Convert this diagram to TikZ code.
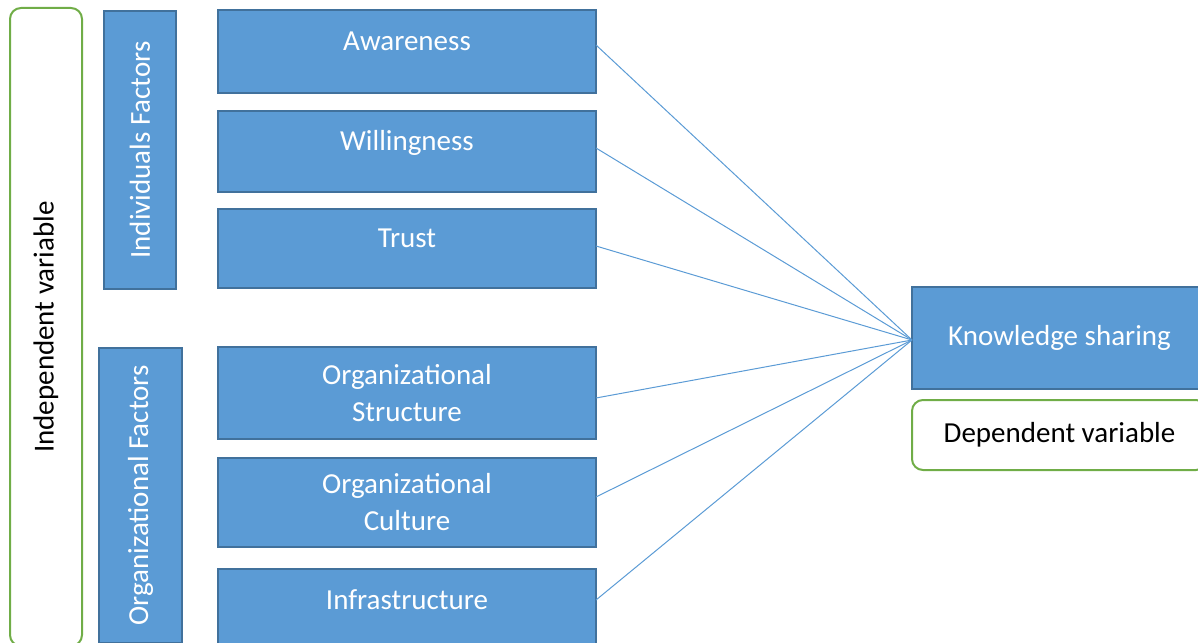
\documentclass[tikz,border=0pt]{standalone}
\usepackage{fontspec}
\setmainfont{Carlito}

\definecolor{boxblue}{HTML}{5B9BD5}
\definecolor{boxedge}{HTML}{41719C}
\definecolor{groupgreen}{HTML}{70AD47}

\tikzset{
    factor/.style={draw=boxedge, fill=boxblue, line width=1.8pt, text=white,
        inner sep=0pt, outer sep=0pt, minimum width=378pt, align=center,
        font=\fontsize{29}{37}\selectfont},
    raised/.style={text height=20pt, text depth=22pt},
    group/.style={factor, rotate=90},
    varbox/.style={draw=groupgreen, line width=2pt, rounded corners=11pt,
        inner sep=0pt, outer sep=0pt, font=\fontsize{29}{37}\selectfont},
    link/.style={draw=boxblue, line width=1pt}
}

\begin{document}
\begin{tikzpicture}[x=1pt, y=-1pt]
    \useasboundingbox (0,0) rectangle (1198,642);
    \clip (0,0) rectangle (1198,642);

    % Variable frames
    \node[varbox, rotate=90, minimum width=638pt, minimum height=72pt] (indep) at (46,327) {Independent variable};
    \node[varbox, minimum width=295pt, minimum height=70pt] (dep) at (1059.5,435) {Dependent variable};

    % Factor groups
    \node[group, minimum width=278pt, minimum height=72pt] (indiv) at (140,150) {Individuals Factors};
    \node[group, minimum width=295pt, minimum height=83pt] (orgf) at (140.5,495.5) {Organizational Factors};

    % Factors
    \node[factor, raised, minimum height=83pt] (aw) at (407,51.5) {Awareness};
    \node[factor, raised, minimum height=81pt] (wi) at (407,151.5) {Willingness};
    \node[factor, raised, minimum height=79pt] (tr) at (407,248.5) {Trust};
    \node[factor, minimum height=92pt] (os) at (407,393) {Organizational\\Structure};
    \node[factor, minimum height=89pt] (oc) at (407,502.5) {Organizational\\Culture};
    \node[factor, raised, minimum height=83pt] (inf) at (407,610.5) {Infrastructure};

    % Outcome
    \node[factor, minimum width=295pt, minimum height=102pt] (ks) at (1059.5,338) {Knowledge sharing};
    \coordinate (hub) at ([yshift=-2pt]ks.west);

    % Links into knowledge sharing
    \foreach \n/\s in {aw/6.5, wi/3.5, tr/2.5, os/-5, oc/5.5, inf/10.5}
    {
        \draw[link] ([yshift=\s pt]\n.east) -- (hub);
    }
\end{tikzpicture}
\end{document}
